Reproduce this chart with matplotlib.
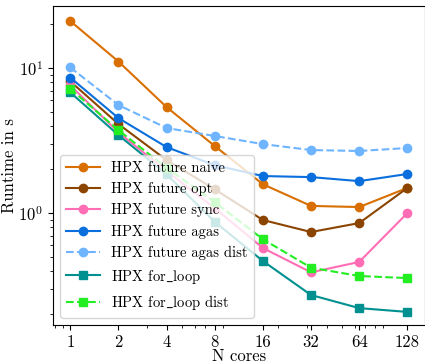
import matplotlib
matplotlib.use("Agg")
import matplotlib.pyplot as plt
from matplotlib.ticker import FixedLocator, FixedFormatter, LogLocator, NullFormatter

plt.rcParams['font.family'] = 'serif'
plt.rcParams['font.serif'] = ['cmr10']
plt.rcParams['mathtext.fontset'] = 'cm'
plt.rcParams['axes.formatter.use_mathtext'] = True

# datos
cores = [1, 2, 4, 8, 16, 32, 64, 128]
core_labels = ['1', '2', '4', '8', '16', '32', '64', '128']

future_naive = [21.1, 11.1, 5.38, 2.90, 1.58, 1.12, 1.10, 1.49]
future_opt = [8.1, 4.11, 2.32, 1.46, 0.895, 0.74, 0.853, 1.49]
future_sync = [7.6, 3.6, 1.95, 1.08, 0.574, 0.39, 0.46, 1.0]
future_agas = [8.6, 4.52, 2.85, 2.14, 1.80, 1.77, 1.66, 1.86]
future_agas_dist = [10.1, 5.56, 3.86, 3.40, 2.99, 2.72, 2.68, 2.81]
for_loop = [6.8, 3.45, 1.85, 0.87, 0.467, 0.272, 0.221, 0.208]
for_loop_dist = [7.2, 3.73, 2.05, 1.19, 0.66, 0.42, 0.368, 0.356]

fig = plt.figure(figsize=(4.25, 3.64), dpi=100)
ax = fig.add_axes([53/425, 1 - 325/364, 372/425, 319/364])

ax.plot(cores, future_naive, color='#d96f00', marker='o', ms=6, lw=1.5, label='HPX future naive')
ax.plot(cores, future_opt, color='#8b4500', marker='o', ms=6, lw=1.5, label='HPX future opt')
ax.plot(cores, future_sync, color='#ff6eb4', marker='o', ms=6, lw=1.5, label='HPX future sync')
ax.plot(cores, future_agas, color='#0a6fdc', marker='o', ms=6, lw=1.5, label='HPX future agas')
ax.plot(cores, future_agas_dist, color='#6eb4ff', marker='o', ms=6, lw=1.5, ls='--', label='HPX future agas dist')
ax.plot(cores, for_loop, color='#009090', marker='s', ms=6, lw=1.5, label='HPX for$\\_$loop')
ax.plot(cores, for_loop_dist, color='#22ee22', marker='s', ms=6, lw=1.5, ls='--', label='HPX for$\\_$loop dist')

ax.set_xscale('log', base=2)
ax.set_yscale('log')
ax.set_xlim(0.78, 165)
ax.set_ylim(0.169, 26.8)
ax.xaxis.set_major_locator(FixedLocator(cores))
ax.xaxis.set_major_formatter(FixedFormatter(core_labels))
ax.xaxis.set_minor_locator(LogLocator(base=10, subs=range(2, 10)))
ax.xaxis.set_minor_formatter(NullFormatter())
ax.tick_params(labelsize=12)

ax.set_xlabel('N cores', fontsize=12, labelpad=-1)
ax.set_ylabel('Runtime in s', fontsize=12, labelpad=1)
ax.legend(loc='lower left', fontsize=10.5, handlelength=2.3)

plt.savefig('out.png', dpi=100)
